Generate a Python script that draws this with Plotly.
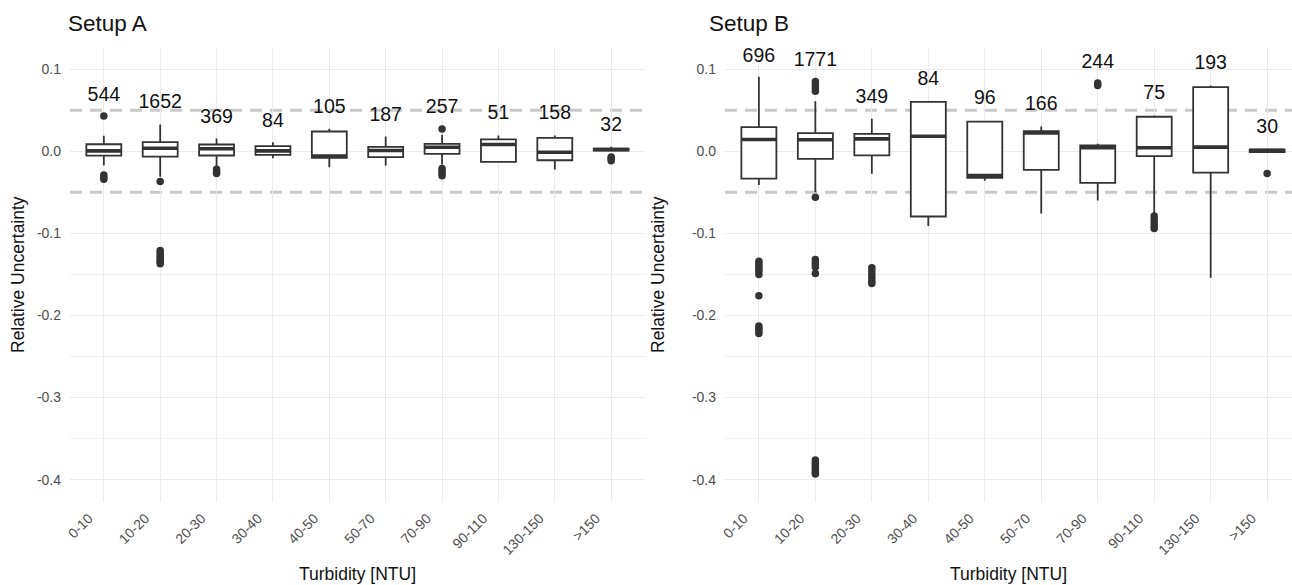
import plotly.graph_objects as go

# ---------------- data ----------------
categories = ["0-10", "10-20", "20-30", "30-40", "40-50", "50-70", "70-90", "90-110", "130-150", ">150"]

# Setup A box statistics
a_q1 = [-0.0054, -0.0066, -0.0052, -0.0044, -0.0081, -0.0073, -0.0032, -0.0130, -0.0110, 0.0008]
a_median = [0.0004, 0.0037, 0.0030, 0.0004, -0.0060, 0.0009, 0.0049, 0.0082, -0.0012, 0.0020]
a_q3 = [0.0085, 0.0110, 0.0082, 0.0061, 0.0240, 0.0054, 0.0090, 0.0143, 0.0163, 0.0032]
a_lower = [-0.0175, -0.0310, -0.0180, -0.0085, -0.0195, -0.0174, -0.0162, -0.0130, -0.0223, -0.0005]
a_upper = [0.0187, 0.0326, 0.0155, 0.0110, 0.0273, 0.0180, 0.0200, 0.0190, 0.0190, 0.0055]
a_counts = ["544", "1652", "369", "84", "105", "187", "257", "51", "158", "32"]
a_label_y = [0.067, 0.058, 0.040, 0.036, 0.053, 0.043, 0.052, 0.045, 0.045, 0.030]
a_outliers = {
    "0-10": [0.043, -0.029, -0.032, -0.034],
    "10-20": [-0.037, -0.121, -0.124, -0.127, -0.130, -0.133, -0.135, -0.137],
    "20-30": [-0.022, -0.025, -0.027],
    "70-90": [0.027, -0.021, -0.024, -0.027, -0.030],
    ">150": [-0.007, -0.009, -0.0115],
}

# Setup B box statistics
b_q1 = [-0.0335, -0.0093, -0.0050, -0.0795, -0.0325, -0.0228, -0.0385, -0.0060, -0.0260, -0.0010]
b_median = [0.0143, 0.0139, 0.0150, 0.0183, -0.0296, 0.0221, 0.0042, 0.0042, 0.0050, 0.0010]
b_q3 = [0.0294, 0.0220, 0.0210, 0.0600, 0.0360, 0.0245, 0.0070, 0.0420, 0.0780, 0.0020]
b_lower = [-0.0410, -0.0500, -0.0275, -0.0910, -0.0360, -0.0760, -0.0600, -0.0760, -0.1540, -0.0020]
b_upper = [0.0907, 0.0610, 0.0395, 0.0600, 0.0370, 0.0300, 0.0090, 0.0435, 0.0800, 0.0030]
b_counts = ["696", "1771", "349", "84", "96", "166", "244", "75", "193", "30"]
b_label_y = [0.115, 0.110, 0.065, 0.086, 0.063, 0.056, 0.107, 0.070, 0.106, 0.028]
b_outliers = {
    "0-10": [-0.134, -0.137, -0.140, -0.143, -0.146, -0.150, -0.176, -0.213, -0.216, -0.219, -0.222],
    "10-20": [0.073, 0.077, 0.081, 0.085, -0.056, -0.132, -0.135, -0.138, -0.141, -0.149,
              -0.376, -0.379, -0.382, -0.385, -0.388, -0.391, -0.393],
    "20-30": [-0.142, -0.146, -0.150, -0.154, -0.158, -0.161],
    "70-90": [0.080, 0.083],
    "90-110": [-0.079, -0.083, -0.087, -0.091, -0.094],
    ">150": [-0.027],
}

reference_lines = [0.05, -0.05]
y_tick_vals = [0.1, 0.0, -0.1, -0.2, -0.3, -0.4]
y_tick_text = ["0.1", "0.0", "-0.1", "-0.2", "-0.3", "-0.4"]
y_minor_vals = [-0.15, -0.25, -0.35]
panel_titles = ["Setup A", "Setup B"]
x_title = "Turbidity [NTU]"
y_title = "Relative Uncertainty"

# ---------------- styling ----------------
W, H = 1292, 585
FONT = "Liberation Sans, Arial, sans-serif"
DARK = "#333333"
GRID = "#ebebeb"

fig = go.Figure()


def add_panel(xa, ya, q1, med, q3, lo, hi, counts, label_y, outliers):
    fig.add_trace(go.Box(
        x=categories, q1=q1, median=med, q3=q3, lowerfence=lo, upperfence=hi,
        xaxis=xa, yaxis=ya, fillcolor="white", line=dict(color=DARK, width=1.8),
        whiskerwidth=0, width=0.62, boxpoints=False, showlegend=False, hoverinfo="skip"))
    # thicker median line
    fig.add_trace(go.Box(
        x=categories, q1=med, median=med, q3=med, lowerfence=med, upperfence=med,
        xaxis=xa, yaxis=ya, fillcolor="rgba(0,0,0,0)", line=dict(color=DARK, width=3.6),
        whiskerwidth=0, width=0.62, boxpoints=False, showlegend=False, hoverinfo="skip"))
    ox, oy = [], []
    for c, vals in outliers.items():
        ox += [c] * len(vals)
        oy += vals
    fig.add_trace(go.Scatter(
        x=ox, y=oy, mode="markers", xaxis=xa, yaxis=ya,
        marker=dict(color=DARK, size=7.5, line=dict(width=0)),
        showlegend=False, hoverinfo="skip"))
    fig.add_trace(go.Scatter(
        x=categories, y=label_y, text=counts, mode="text", xaxis=xa, yaxis=ya,
        textfont=dict(family=FONT, size=19.5, color="#111111"),
        showlegend=False, hoverinfo="skip"))
    for v in reference_lines:
        fig.add_shape(type="line", xref=xa + " domain", yref=ya, x0=0, x1=1, y0=v, y1=v,
                      line=dict(color="#c9c9c9", width=3, dash="12px,8px"), layer="below")


add_panel("x", "y", a_q1, a_median, a_q3, a_lower, a_upper, a_counts, a_label_y, a_outliers)
add_panel("x2", "y2", b_q1, b_median, b_q3, b_lower, b_upper, b_counts, b_label_y, b_outliers)

top_px, bot_px = 48, 501.5
ydom = [1 - bot_px / H, 1 - top_px / H]
yrange = [-0.4266, 0.1257]

xcommon = dict(type="category", categoryorder="array", categoryarray=categories, automargin=False,
               showgrid=True, gridcolor=GRID, gridwidth=1.3, zeroline=False, showline=False,
               ticks="", tickangle=-45, ticklabelshift=-15, ticklabelstandoff=5,
               tickfont=dict(family=FONT, size=14, color="#4d4d4d"))
ycommon = dict(range=yrange, domain=ydom, tickmode="array", tickvals=y_tick_vals, ticktext=y_tick_text,
               automargin=False,
               showgrid=True, gridcolor=GRID, gridwidth=1.3, zeroline=False, showline=False, ticks="",
               ticklabelstandoff=8, tickfont=dict(family=FONT, size=14, color="#4d4d4d"),
               minor=dict(tickmode="array", tickvals=y_minor_vals, showgrid=True, gridcolor="#f0f0f0",
                          gridwidth=1.0, ticks=""))

fig.update_layout(
    width=W, height=H, margin=dict(l=0, r=0, t=0, b=0, pad=0, autoexpand=False),
    paper_bgcolor="white", plot_bgcolor="white", boxmode="overlay",
    font=dict(family=FONT),
    xaxis=dict(domain=[70 / W, 645 / W], range=[-0.6, 9.6], anchor="y", **xcommon),
    yaxis=dict(anchor="x", **ycommon),
    xaxis2=dict(domain=[725 / W, 1.0], range=[-0.6, 9.44], anchor="y2", **xcommon),
    yaxis2=dict(anchor="x2", **ycommon),
)

ann = []
for title, xp in zip(panel_titles, [66, 707]):
    ann.append(dict(text=title, x=xp / W, y=1 - 24 / H, xref="paper", yref="paper",
                    xanchor="left", yanchor="middle", showarrow=False,
                    font=dict(family=FONT, size=22.5, color="#111111")))
for xc in [357.5, 1008.5]:
    ann.append(dict(text=x_title, x=xc / W, y=1 - 574 / H, xref="paper", yref="paper",
                    xanchor="center", yanchor="middle", showarrow=False,
                    font=dict(family=FONT, size=17.5, color="#111111")))
for xc in [18, 658]:
    ann.append(dict(text=y_title, x=xc / W, y=1 - 275 / H, xref="paper", yref="paper",
                    xanchor="center", yanchor="middle", textangle=-90, showarrow=False,
                    font=dict(family=FONT, size=17.5, color="#111111")))
fig.update_layout(annotations=ann)

fig.write_html("out.html")
